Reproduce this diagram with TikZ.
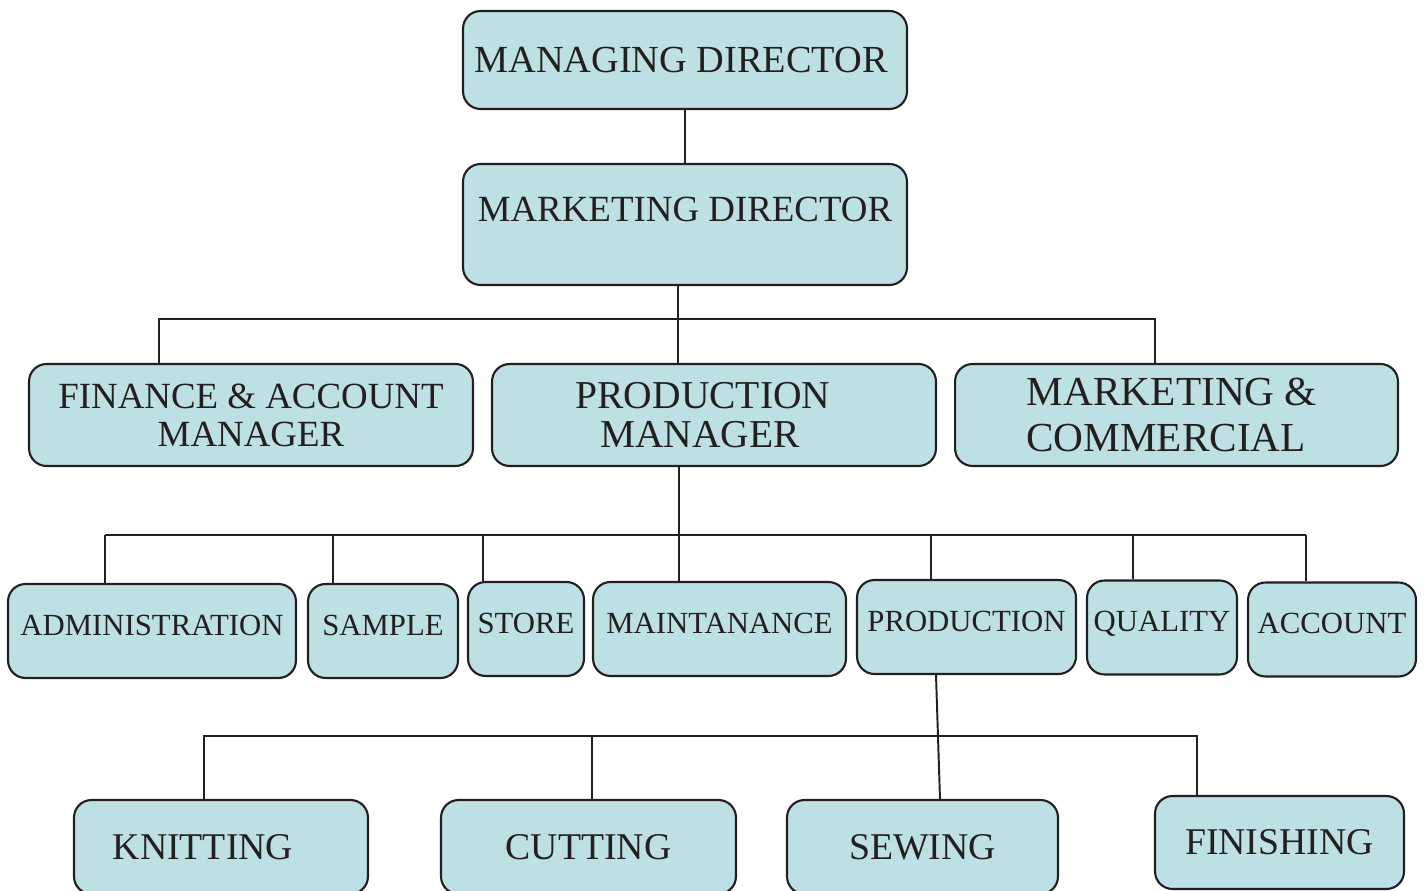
\documentclass[tikz,border=0pt]{standalone}
\usepackage{fontspec}
\setmainfont{Liberation Serif}
\usepackage{tikz}
\definecolor{boxfill}{RGB}{189,224,228}
\definecolor{linegray}{RGB}{35,31,32}

\begin{document}
\begin{tikzpicture}[x=0.02cm, y=-0.02cm, color=linegray, line width=1.1pt,
    box/.style={draw, fill=boxfill, rounded corners=0.35cm, align=center, inner sep=0pt, line width=1.2pt},
    head/.style={box, minimum width=8.88cm},
    dept/.style={box, minimum height=2.04cm, minimum width=8.88cm},
    unit/.style={box, minimum height=1.88cm, font=\fontsize{17.5}{21}\selectfont, text height=11.6pt, text depth=0.24cm},
    floor/.style={box, minimum height=1.88cm, font=\fontsize{21.5}{26}\selectfont}]

  \useasboundingbox (0,0) rectangle (1426,891);

  % Directors
  \node[head, minimum height=1.96cm, font=\fontsize{21.8}{26}\selectfont] (md) at (685,60) {MANAGING DIRECTOR\hspace*{0.16cm}};
  \node[head, minimum height=2.42cm, font=\fontsize{21}{25}\selectfont, text height=13.9pt, text depth=0.6cm] (mkd) at (685,224.5) {MARKETING DIRECTOR};

  % Managers
  \node[dept, font=\fontsize{21}{21.6}\selectfont] (fin) at (251,415) {FINANCE \& ACCOUNT\\MANAGER};
  \node[dept, font=\fontsize{22.5}{22.2}\selectfont] (pm) at (714,415) {PRODUCTION\hspace*{0.44cm}\\MANAGER\hspace*{0.56cm}};
  \node[dept, minimum width=8.86cm, font=\fontsize{23.5}{26.7}\selectfont] (mc) at (1176.5,415) {MARKETING \&\hspace*{0.18cm}\\COMMERCIAL\hspace*{0.42cm}};

  % Sections (under production manager)
  \node[unit, minimum width=5.76cm] (adm) at (152,631) {ADMINISTRATION};
  \node[unit, minimum width=3.0cm] (smp) at (383,631) {SAMPLE};
  \node[unit, minimum width=2.32cm] (sto) at (526,629) {STORE};
  \node[unit, minimum width=5.06cm] (mnt) at (719.5,629) {MAINTANANCE};
  \node[unit, minimum width=4.38cm] (prd) at (966.5,627) {PRODUCTION};
  \node[unit, minimum width=3.0cm] (qlt) at (1162,627.5) {QUALITY};
  \node[unit, minimum width=3.36cm] (acc) at (1332,629.5) {ACCOUNT};

  % Floors (under production)
  \node[floor, minimum width=5.88cm] (knt) at (221,847) {KNITTING\hspace*{0.72cm}};
  \node[floor, minimum width=5.9cm] (cut) at (588.5,847) {CUTTING};
  \node[floor, minimum width=5.42cm] (sew) at (922.5,847) {SEWING};
  \node[floor, minimum width=4.98cm, minimum height=1.86cm] (fns) at (1279.5,842.5) {FINISHING};

  % Connectors
  \draw (md) -- (mkd);
  \draw (mkd.south -| 678,0) -- (pm.north -| 678,0);
  \draw (fin.north -| 159,0) -- (159,319) -- (1155,319) -- (mc.north -| 1155,0);

  \draw (pm.south -| 679,0) -- (679,535);
  \draw (105,535) -- (1306,535);
  \foreach \x/\n in {105/adm, 333/smp, 483/sto, 679/mnt, 931/prd, 1133/qlt, 1306/acc}
    \draw (\x,535) -- (\n.north -| \x,535);

  \draw (prd.south -| 936,0) -- (sew.north -| 940,0);
  \draw (knt.north -| 204,0) -- (204,736) -- (1197,736) -- (fns.north -| 1197,0);
  \draw (592,736) -- (cut.north -| 592,0);
\end{tikzpicture}
\end{document}
